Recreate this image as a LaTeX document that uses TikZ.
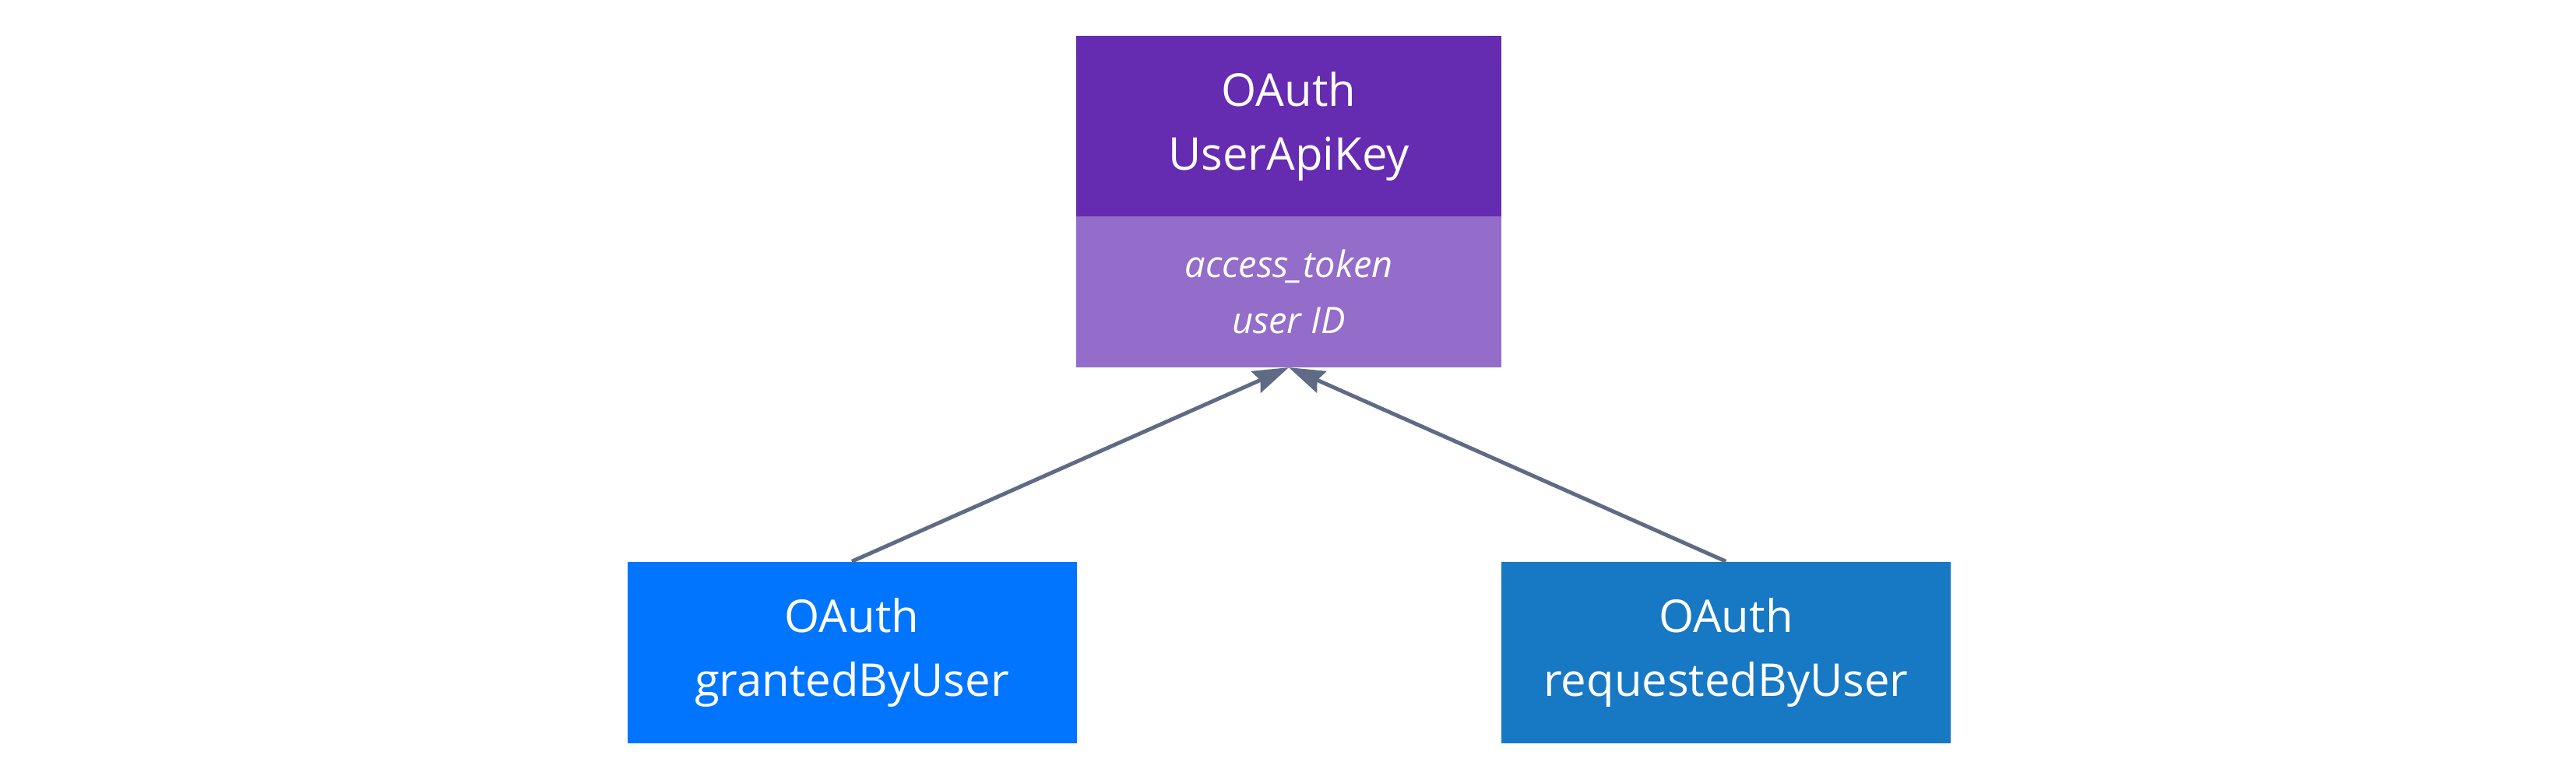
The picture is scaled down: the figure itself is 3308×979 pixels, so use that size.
\documentclass[tikz,border=0pt]{standalone}
\usepackage{fontspec}
\setmainfont{Open Sans}
\usetikzlibrary{positioning, arrows.meta}

\definecolor{classhead}{HTML}{652BB0}
\definecolor{classbody}{HTML}{946CC9}
\definecolor{grantedblue}{HTML}{0275FE}
\definecolor{requestedblue}{HTML}{1778C4}
\definecolor{linkgray}{HTML}{5F6B85}

\begin{document}
\begin{tikzpicture}[
    x=1pt, y=-1pt,
    head/.style={rectangle, fill=classhead, text=white, align=center, inner sep=0pt, minimum width=546pt, minimum height=231pt, font=\fontsize{58}{82}\selectfont},
    body/.style={rectangle, fill=classbody, text=white, align=center, inner sep=0pt, minimum width=546pt, minimum height=194pt, font=\fontsize{47}{72}\selectfont\itshape},
    leaf/.style={rectangle, text=white, align=center, inner sep=0pt, minimum width=577pt, minimum height=233pt, font=\fontsize{58}{82}\selectfont},
    line/.style={draw=linkgray, line width=5pt, -{Stealth[length=46pt, width=30pt, inset=6pt]}}
]
\useasboundingbox (0,0) rectangle (3308,979);

\node [head] (apikey) at (1655,162) {OAuth\\UserApiKey};
\node [body, below=0pt of apikey] (fields) {access\_token\\user ID};

\node [leaf, fill=grantedblue] (granted) at (1094,838) {OAuth\\grantedByUser};
\node [leaf, fill=requestedblue, right=545pt of granted] (requested) {OAuth\\requestedByUser};

\path [line] (granted.north) -- (fields.south);
\path [line] (requested.north) -- (fields.south);

\end{tikzpicture}
\end{document}
